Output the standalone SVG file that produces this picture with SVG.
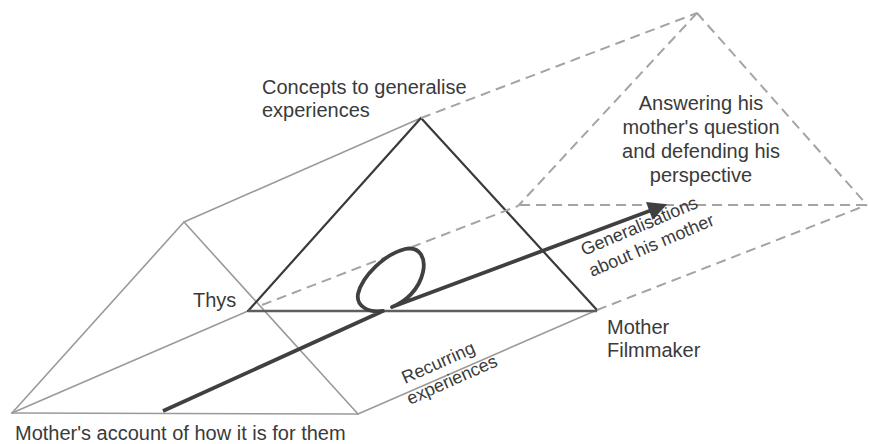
<svg xmlns="http://www.w3.org/2000/svg" width="869" height="444" viewBox="0 0 869 444">
<style>
.light{stroke:#9a9a9a;stroke-width:1.6;fill:none;stroke-linecap:round}
.dark{stroke:#3a3a3a;stroke-width:2.2;fill:none;stroke-linecap:round}
.mid{stroke:#5e5e5e;stroke-width:2.4;fill:none}
.dash{stroke:#a4a4a4;stroke-width:2;fill:none;stroke-dasharray:10 6}
.thick{stroke:#404040;stroke-width:3.8;fill:none;stroke-linejoin:round}
text{font-family:"Liberation Sans",Arial,sans-serif;fill:#3a3a3a;font-size:20px}
.rot{font-size:18px}
</style>
<defs>
<marker id="ah" viewBox="0 0 10 10" refX="6" refY="5" markerWidth="5.5" markerHeight="5" orient="auto" markerUnits="strokeWidth">
<path d="M0,0 L10,5 L0,10 Z" fill="#404040"/>
</marker>
</defs>
<rect width="869" height="444" fill="#ffffff"/>
<g id="connectors">
<line class="light" x1="12" y1="413" x2="184" y2="222"/>
<line class="light" x1="184" y1="222" x2="358" y2="414"/>
<line class="light" x1="12" y1="413" x2="358" y2="414"/>
<line class="light" x1="12" y1="413" x2="248" y2="311"/>
<line class="light" x1="184" y1="222" x2="421" y2="118"/>
<line class="light" x1="358" y1="414" x2="597" y2="310"/>
<line class="dark" x1="248" y1="311" x2="421" y2="118"/>
<line class="dark" x1="421" y1="118" x2="597" y2="310"/>
<line class="mid" x1="248" y1="311" x2="597" y2="311"/>
<line class="dash" x1="421" y1="118" x2="697" y2="13"/>
<line class="dash" x1="697" y1="13" x2="518" y2="206"/>
<line class="dash" x1="697" y1="13" x2="867" y2="205"/>
<line class="dash" x1="520" y1="205" x2="867" y2="205"/>
<line class="dash" x1="262" y1="305" x2="518" y2="206"/>
<line class="dash" x1="597" y1="310" x2="867" y2="205"/>
<path class="thick" d="M163,411 L383,311 C368,313 356,306 358,294 C362,276 385,254 405,249 C420,246 426,258 423,272 C419,290 405,302 392,307 L660,207" marker-end="url(#ah)"/>
</g>
<g id="node-concepts"><text x="262" y="94">Concepts to generalise</text><text x="262" y="117">experiences</text></g>
<g id="node-answering">
<text x="701" y="110" text-anchor="middle">Answering his</text>
<text x="701" y="134" text-anchor="middle">mother's question</text>
<text x="701" y="158" text-anchor="middle">and defending his</text>
<text x="701" y="182" text-anchor="middle">perspective</text>
</g>
<g id="node-thys"><text x="193" y="307">Thys</text></g>
<g id="node-mother"><text x="607" y="334">Mother</text><text x="607" y="357">Filmmaker</text></g>
<g id="node-account"><text x="15" y="440">Mother's account of how it is for them</text></g>
<g id="label-recurring">
<text class="rot" transform="translate(405,384) rotate(-24)">Recurring</text>
<text class="rot" transform="translate(410,405) rotate(-24)">experiences</text>
</g>
<g id="label-generalisations">
<text class="rot" transform="translate(584,256) rotate(-23)">Generalisations</text>
<text class="rot" transform="translate(592,277) rotate(-23)">about his mother</text>
</g>
</svg>
